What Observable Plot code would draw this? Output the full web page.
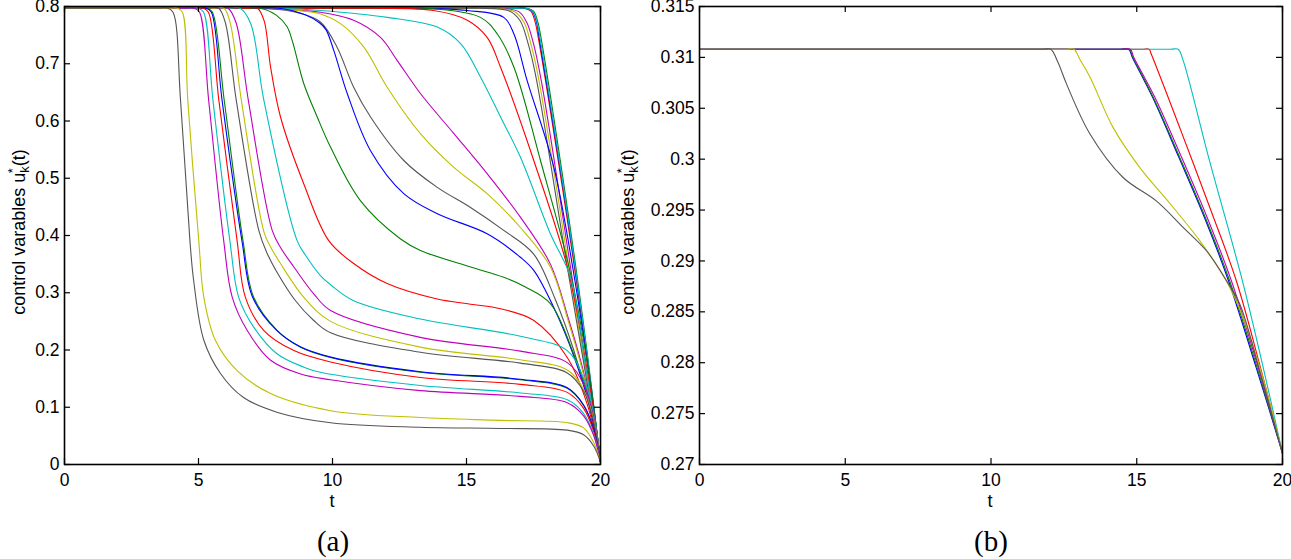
<!DOCTYPE html>
<html><head><meta charset="utf-8">
<script src="https://cdn.jsdelivr.net/npm/d3@7"></script>
<script src="https://cdn.jsdelivr.net/npm/@observablehq/plot@0.6"></script>
<style>
body{margin:0;background:#fff;}
#fig{position:relative;width:1291px;height:559px;overflow:hidden;background:#fff;}
.panel{position:absolute;top:0;}
.cap{position:absolute;top:520px;width:100px;height:42px;line-height:42px;font-family:"Liberation Serif","DejaVu Serif",serif;font-size:29px;text-align:center;color:#000;}
</style></head><body><div id="fig"></div>
<script>
// ---- axis ticks & labels ----
const xTicks = [0, 5, 10, 15, 20];
const xLabels = ["0", "5", "10", "15", "20"];
const yTicksA = [0, 0.1, 0.2, 0.3, 0.4, 0.5, 0.6, 0.7, 0.8];
const yLabelsA = ["0", "0.1", "0.2", "0.3", "0.4", "0.5", "0.6", "0.7", "0.8"];
const yTicksB = [0.27, 0.275, 0.28, 0.285, 0.29, 0.295, 0.3, 0.305, 0.31, 0.315];
const yLabelsB = ["0.27", "0.275", "0.28", "0.285", "0.29", "0.295", "0.3", "0.305", "0.31", "0.315"];
const yTitle = "control varables u";
const xTitle = "t";
const captions = ["(a)", "(b)"];

// ---- line colours (MATLAB classic) ----
const cB = "#0000ff", cG = "#008000", cR = "#ff0000", cC = "#00bfbf", cM = "#bf00bf", cY = "#bfbf00", cK = "#555555";

// ---- panel (a): [t, u] ----
const aK1 = [[0,0.797],[3.50,0.797],[3.85,0.797],[4.05,0.790],[4.33,0.636],[4.68,0.391],[4.82,0.321],[5.20,0.217],[5.82,0.159],[6.68,0.117],[7.95,0.091],[9.93,0.073],[13.28,0.065],[16.27,0.063],[18.76,0.060],[19.37,0.052],[19.75,0.032],[20,0.004]];
const aY1 = [[0,0.797],[3.90,0.797],[4.22,0.797],[4.40,0.790],[4.60,0.636],[5.01,0.391],[5.20,0.292],[5.63,0.217],[6.44,0.164],[7.69,0.124],[9.93,0.094],[13.28,0.082],[16.27,0.077],[18.76,0.073],[19.37,0.064],[19.75,0.038],[20,0.005]];
const aM1 = [[0,0.797],[4.50,0.797],[4.85,0.797],[5.04,0.790],[5.38,0.636],[5.94,0.391],[6.26,0.292],[6.82,0.234],[7.69,0.182],[8.81,0.158],[9.93,0.148],[13.28,0.129],[17.01,0.119],[18.76,0.108],[19.37,0.085],[19.75,0.050],[20,0.005]];
const aC1 = [[0,0.797],[4.65,0.797],[5.00,0.797],[5.19,0.790],[5.54,0.636],[6.17,0.391],[6.50,0.292],[7.06,0.240],[7.94,0.193],[8.93,0.170],[9.55,0.161],[13.28,0.138],[17.01,0.125],[18.76,0.113],[19.37,0.089],[19.75,0.052],[20,0.005]];
const aR1 = [[0,0.797],[4.80,0.797],[5.18,0.797],[5.37,0.790],[5.76,0.636],[6.44,0.391],[6.75,0.292],[7.44,0.234],[8.56,0.199],[9.93,0.179],[13.28,0.152],[17.01,0.140],[18.76,0.126],[19.37,0.098],[19.75,0.057],[20,0.005]];
const aG1 = [[0,0.797],[5.00,0.797],[5.33,0.797],[5.52,0.790],[5.96,0.636],[6.66,0.391],[7.06,0.292],[7.94,0.234],[8.81,0.205],[9.93,0.187],[13.28,0.161],[17.01,0.148],[18.76,0.133],[19.37,0.103],[19.75,0.060],[20,0.005]];
const aB1 = [[0,0.797],[4.95,0.797],[5.29,0.797],[5.48,0.790],[5.88,0.636],[6.62,0.391],[7.02,0.292],[7.90,0.235],[8.78,0.206],[9.90,0.188],[13.28,0.162],[17.01,0.149],[18.76,0.134],[19.37,0.104],[19.75,0.061],[20,0.005]];
const aK2 = [[0,0.797],[5.40,0.797],[5.75,0.797],[6.00,0.772],[6.41,0.636],[7.25,0.409],[7.55,0.370],[7.94,0.335],[8.62,0.286],[9.29,0.252],[9.93,0.230],[13.28,0.196],[17.01,0.177],[18.76,0.160],[19.37,0.128],[19.75,0.074],[20,0.005]];
const aY2 = [[0,0.797],[5.60,0.797],[5.95,0.797],[6.18,0.772],[6.60,0.636],[7.45,0.405],[7.69,0.380],[8.06,0.351],[8.93,0.292],[9.93,0.250],[13.28,0.205],[17.01,0.183],[18.76,0.165],[19.37,0.131],[19.75,0.077],[20,0.005]];
const aM2 = [[0,0.797],[5.75,0.797],[6.10,0.797],[6.40,0.772],[6.86,0.636],[7.75,0.409],[8.06,0.379],[8.56,0.345],[9.30,0.298],[9.93,0.269],[13.28,0.222],[17.01,0.198],[18.76,0.178],[19.37,0.140],[19.75,0.082],[20,0.005]];
const aC2 = [[0,0.797],[6.20,0.797],[6.55,0.797],[6.95,0.770],[7.44,0.636],[8.68,0.391],[9.00,0.365],[9.55,0.330],[9.93,0.314],[10.79,0.286],[13.28,0.254],[17.01,0.224],[18.76,0.199],[19.37,0.150],[19.75,0.087],[20,0.005]];
const aR2 = [[0,0.797],[6.85,0.797],[7.20,0.797],[7.45,0.775],[7.69,0.694],[8.06,0.607],[8.93,0.490],[9.86,0.391],[10.79,0.351],[12.04,0.316],[13.91,0.289],[15.15,0.280],[16.27,0.272],[17.50,0.252],[18.76,0.187],[19.50,0.106],[20,0.005]];
const aG2 = [[0,0.797],[6.90,0.797],[7.30,0.797],[7.90,0.785],[8.30,0.765],[8.50,0.740],[8.93,0.665],[9.43,0.607],[9.93,0.554],[11.04,0.461],[12.54,0.394],[13.28,0.374],[15.15,0.345],[16.39,0.327],[17.20,0.310],[18.13,0.281],[19.00,0.193],[19.63,0.106],[20,0.005]];
const aB2 = [[0,0.797],[7.00,0.797],[8.00,0.797],[9.00,0.785],[9.50,0.772],[9.75,0.760],[10.05,0.723],[10.55,0.648],[11.42,0.548],[12.66,0.473],[13.91,0.438],[15.77,0.403],[17.01,0.362],[17.51,0.339],[18.30,0.270],[19.00,0.190],[19.60,0.100],[20,0.005]];
const aK3 = [[0,0.797],[6.50,0.797],[7.50,0.797],[8.81,0.788],[9.55,0.773],[10.17,0.729],[10.79,0.659],[11.42,0.607],[12.66,0.531],[13.91,0.484],[15.15,0.449],[16.39,0.409],[17.50,0.368],[18.30,0.290],[19.00,0.200],[19.60,0.100],[20,0.005]];
const aY3 = [[0,0.797],[6.00,0.797],[7.00,0.797],[8.50,0.794],[9.55,0.787],[10.30,0.770],[11.17,0.729],[12.04,0.659],[13.28,0.578],[14.53,0.519],[15.77,0.473],[17.01,0.414],[18.13,0.345],[18.80,0.250],[19.40,0.150],[20,0.005]];
const aM3 = [[0,0.797],[6.00,0.797],[7.00,0.797],[9.55,0.790],[10.79,0.776],[11.79,0.746],[12.41,0.706],[13.28,0.648],[14.53,0.578],[15.77,0.508],[17.01,0.432],[18.13,0.350],[18.80,0.255],[19.40,0.155],[20,0.005]];
const aC3 = [[0,0.797],[7.00,0.797],[8.00,0.797],[9.55,0.793],[12.04,0.781],[13.91,0.764],[14.78,0.735],[15.52,0.677],[16.27,0.607],[17.01,0.537],[18.13,0.403],[18.88,0.327],[19.45,0.170],[20,0.005]];
const aR3 = [[0,0.797],[9.00,0.797],[10.00,0.797],[13.77,0.793],[15.03,0.776],[15.77,0.746],[16.27,0.694],[17.51,0.531],[18.76,0.345],[19.45,0.180],[20,0.005]];
const aG3 = [[0,0.797],[11.00,0.797],[12.00,0.797],[13.77,0.796],[15.52,0.781],[16.15,0.752],[16.77,0.694],[17.76,0.531],[18.88,0.334],[19.50,0.180],[20,0.005]];
const aB3 = [[0,0.797],[12.00,0.797],[13.00,0.797],[15.03,0.793],[16.39,0.781],[16.77,0.752],[17.26,0.671],[18.26,0.519],[19.00,0.334],[19.52,0.175],[20,0.005]];
const aK4 = [[0,0.797],[15.00,0.797],[15.50,0.797],[16.60,0.792],[17.00,0.775],[17.30,0.735],[17.60,0.675],[18.76,0.345],[19.40,0.170],[20,0.005]];
const aY4 = [[0,0.797],[15.50,0.797],[16.00,0.797],[16.80,0.791],[17.15,0.772],[17.40,0.735],[17.70,0.672],[18.82,0.345],[19.42,0.170],[20,0.005]];
const aM4 = [[0,0.797],[15.70,0.797],[16.20,0.797],[16.95,0.791],[17.25,0.772],[17.50,0.735],[17.80,0.668],[18.88,0.345],[19.45,0.170],[20,0.005]];
const aR4 = [[0,0.797],[16.80,0.797],[17.15,0.797],[17.40,0.792],[17.55,0.775],[17.70,0.740],[19.10,0.321],[20,0.005]];
const aB4 = [[0,0.797],[16.85,0.797],[17.20,0.797],[17.45,0.792],[17.60,0.775],[17.73,0.740],[19.12,0.321],[20,0.005]];
const aG4 = [[0,0.797],[16.90,0.797],[17.25,0.797],[17.50,0.792],[17.65,0.775],[17.80,0.740],[19.15,0.321],[20,0.005]];
const aC4 = [[0,0.797],[16.87,0.797],[17.22,0.797],[17.47,0.792],[17.62,0.775],[17.76,0.740],[19.13,0.321],[20,0.005]];

// ---- panel (b): [t, u] ----
const bR = [[0,0.3108],[15.15,0.3108],[15.42,0.3108],[15.50,0.3103],[16.50,0.3029],[17.50,0.2953],[18.41,0.2881],[19.20,0.2800],[20,0.2711]];
const bC = [[0,0.3108],[16.15,0.3108],[16.42,0.3108],[16.58,0.3098],[17.50,0.2998],[18.62,0.2881],[19.30,0.2800],[20,0.2711]];
const bB = [[0,0.3108],[14.45,0.3108],[14.72,0.3108],[14.85,0.3100],[15.54,0.3061],[16.44,0.3002],[17.36,0.2940],[18.14,0.2881],[19.10,0.2795],[20,0.2711]];
const bG = [[0,0.3108],[14.47,0.3108],[14.74,0.3108],[14.87,0.3100],[15.56,0.3061],[16.47,0.3002],[17.39,0.2940],[18.18,0.2881],[19.12,0.2796],[20,0.2711]];
const bM = [[0,0.3108],[14.50,0.3108],[14.78,0.3108],[14.90,0.3100],[15.60,0.3062],[16.52,0.3003],[17.44,0.2941],[18.24,0.2881],[19.15,0.2797],[20,0.2711]];
const bY = [[0,0.3108],[12.60,0.3108],[12.85,0.3108],[13.05,0.3098],[13.39,0.3081],[14.19,0.3031],[15.10,0.2992],[16.24,0.2953],[17.16,0.2920],[18.00,0.2884],[18.60,0.2848],[19.25,0.2793],[20,0.2711]];
const bK = [[0,0.3108],[11.80,0.3108],[12.05,0.3108],[12.30,0.3095],[12.59,0.3074],[13.39,0.3025],[14.53,0.2982],[15.67,0.2959],[16.59,0.2933],[17.39,0.2910],[18.07,0.2881],[18.53,0.2858],[19.21,0.2793],[20,0.2711]];

// series lists (drawing order: first drawn at bottom)
const seriesA = [
  ["R4", cR, aR4], ["B4", cB, aB4], ["G4", cG, aG4], ["C4", cC, aC4],
  ["M4", cM, aM4], ["Y4", cY, aY4], ["K4", cK, aK4],
  ["B3", cB, aB3], ["G3", cG, aG3], ["R3", cR, aR3], ["C3", cC, aC3], ["M3", cM, aM3], ["Y3", cY, aY3], ["K3", cK, aK3],
  ["B2", cB, aB2], ["G2", cG, aG2], ["R2", cR, aR2], ["C2", cC, aC2], ["M2", cM, aM2], ["Y2", cY, aY2], ["K2", cK, aK2],
  ["G1", cG, aG1], ["B1", cB, aB1], ["R1", cR, aR1], ["C1", cC, aC1], ["M1", cM, aM1], ["Y1", cY, aY1], ["K1", cK, aK1]
];
const seriesB = [["R", cR, bR], ["C", cC, bC], ["B", cB, bB], ["G", cG, bG], ["M", cM, bM], ["Y", cY, bY], ["K", cK, bK]];

function toRows(series) {
  return series.flatMap(([id, color, pts]) => pts.map(([t, u]) => ({t, u, id, color})));
}

function panel({rows, yDomain, yTicks, yLabels, width, height, ml, mr, mt, mb}) {
  const plotW = width - ml - mr, plotH = height - mt - mb;
  const xFmt = new Map(xTicks.map((v, i) => [v, xLabels[i]]));
  const yFmt = new Map(yTicks.map((v, i) => [v, yLabels[i]]));
  const tick = {stroke: "#000", strokeWidth: 1.2};
  return Plot.plot({
    width, height, marginLeft: ml, marginRight: mr, marginTop: mt, marginBottom: mb,
    style: {fontFamily: "'Liberation Sans', Arial, Helvetica, sans-serif", fontSize: "17.5px", background: "transparent", color: "#000", overflow: "visible"},
    x: {domain: [0, 20]},
    y: {domain: yDomain},
    color: {type: "identity"},
    marks: [
      Plot.line(rows, {x: "t", y: "u", z: "id", stroke: "color", strokeWidth: 1.1, curve: "catmull-rom"}),
      Plot.tickX(xTicks, {x: d => d, insetTop: plotH - 6, ...tick}),
      Plot.tickX(xTicks, {x: d => d, insetBottom: plotH - 6, ...tick}),
      Plot.tickY(yTicks, {y: d => d, insetRight: plotW - 6, ...tick}),
      Plot.tickY(yTicks, {y: d => d, insetLeft: plotW - 6, ...tick}),
      Plot.frame({stroke: "#000", strokeWidth: 1.6}),
      Plot.axisX({ticks: xTicks, tickSize: 0, tickPadding: 9, label: null, tickFormat: d => xFmt.get(d)}),
      Plot.axisY({ticks: yTicks, tickSize: 0, tickPadding: 5, label: null, tickFormat: d => yFmt.get(d)})
    ]
  });
}

function addTitles(svg, xc, ylx, yly) {
  const s = d3.select(svg);
  s.append("text").attr("x", xc).attr("y", 507).attr("text-anchor", "middle")
    .style("font-size", "18px").attr("fill", "#000").text(xTitle);
  const yl = s.append("text").attr("transform", `translate(${ylx},${yly}) rotate(-90)`)
    .attr("text-anchor", "middle").style("font-size", "18px").attr("fill", "#000");
  yl.append("tspan").text(yTitle);
  yl.append("tspan").attr("dy", 4).style("font-size", "13px").text("k");
  yl.append("tspan").attr("dx", -7).attr("dy", -12).style("font-size", "13px").text("*");
  yl.append("tspan").attr("dx", 2).attr("dy", 8).text("(t)");
}

const fig = document.getElementById("fig");

// panel (a): plot area x 64..600, y 6..464
const svgA = panel({rows: toRows(seriesA), yDomain: [0, 0.8], yTicks: yTicksA, yLabels: yLabelsA,
  width: 611, height: 520, ml: 64, mr: 11, mt: 6, mb: 56});
addTitles(svgA, 332, 25, 232);
const wrapA = document.createElement("div"); wrapA.className = "panel"; wrapA.style.left = "0px";
wrapA.appendChild(svgA); fig.appendChild(wrapA);

// panel (b): plot area x 699..1282, y 6..464
const svgB = panel({rows: toRows(seriesB), yDomain: [0.27, 0.315], yTicks: yTicksB, yLabels: yLabelsB,
  width: 680, height: 520, ml: 88, mr: 9, mt: 6, mb: 56});
addTitles(svgB, 379, 23, 232);
const wrapB = document.createElement("div"); wrapB.className = "panel"; wrapB.style.left = "611px";
wrapB.appendChild(svgB); fig.appendChild(wrapB);

[[captions[0], 283], [captions[1], 941]].forEach(([txt, left]) => {
  const c = document.createElement("div"); c.className = "cap"; c.style.left = left + "px";
  c.textContent = txt; fig.appendChild(c);
});
</script></body></html>
